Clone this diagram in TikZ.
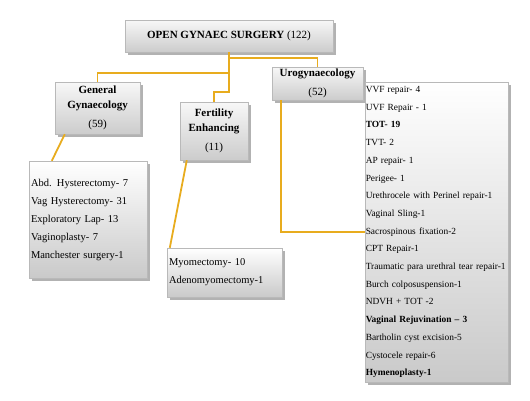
\documentclass[tikz,border=0pt]{standalone}
\usepackage{fontspec}
\setmainfont{Liberation Serif}
\usetikzlibrary{shadows,calc}
\definecolor{connc}{RGB}{232,172,30}
\tikzset{
  shad/.style={drop shadow={shadow xshift=2.5pt,shadow yshift=-2.5pt,fill=gray!75,opacity=0.8}},
  box/.style={draw=gray!55, top color=gray!6, bottom color=gray!40, shad, inner sep=1pt, align=center,
    font=\bfseries\fontsize{11}{15}\selectfont},
  listbox/.style={draw=gray!55, top color=white, bottom color=gray!42, shad, align=left, inner xsep=2pt, inner ysep=0pt},
  conn/.style={draw=connc, line width=1.8pt}
}
\begin{document}
\begin{tikzpicture}[x=1pt,y=-1pt]
\useasboundingbox (0,0) rectangle (530,400);

\node[box, minimum width=208pt, minimum height=32pt] (top) at (229,36)
  {OPEN GYNAEC SURGERY {\mdseries (122)}};

\node[box, minimum width=85pt, minimum height=52pt] (gen) at (97.5,108)
  {General\\Gynaecology\\[4pt]{\mdseries (59)}};
\node[box, minimum width=68pt, minimum height=58pt] (fert) at (214,131)
  {Fertility\\Enhancing\\[4pt]{\mdseries (11)}};
\node[box, minimum width=91pt, minimum height=33pt] (uro) at (317.5,83.5)
  {Urogynaecology\\[4pt]{\mdseries (52)}};

\node[listbox, text width=114pt, minimum height=117pt, font=\fontsize{10.5}{18}\selectfont] (genlist) at (88,219.5)
  {Abd. Hysterectomy- 7\\Vag Hysterectomy- 31\\Exploratory Lap- 13\\Vaginoplasty- 7\\Manchester surgery-1};

\node[listbox, text width=111pt, minimum height=49pt, font=\fontsize{10.5}{18}\selectfont] (myo) at (224.5,272.5)
  {Myomectomy- 10\\Adenomyomectomy-1};

\node[listbox, text width=141.5pt, minimum height=300pt, inner xsep=0.75pt, font=\fontsize{9.4}{17.7}\selectfont] (urolist) at (436.5,232)
  {VVF repair- 4\\UVF Repair - 1\\\textbf{TOT- 19}\\TVT- 2\\AP repair- 1\\Perigee- 1\\Urethrocele with Perinel repair-1\\Vaginal Sling-1\\Sacrospinous fixation-2\\CPT Repair-1\\Traumatic para urethral tear repair-1\\Burch colposuspension-1\\NDVH + TOT -2\\\textbf{Vaginal Rejuvination -- 3}\\Bartholin cyst excision-5\\Cystocele repair-6\\\textbf{Hymenoplasty-1}};

\draw[conn] (top.south) -- ([yshift=-6pt]top.south) -| (uro.north);
\draw[conn] (top.south) |- ([yshift=9pt]gen.north) -- (gen.north);
\draw[conn] (top.south) |- ([yshift=10pt]fert.north) -- (fert.north);
\draw[conn] ([xshift=10pt]gen.south west) -- ([xshift=23pt]genlist.north west);
\draw[conn] ([xshift=7pt]fert.south west) -- ([xshift=3pt]myo.north west);
\draw[conn] ([xshift=9pt]uro.south west) |- (urolist.west);
\end{tikzpicture}
\end{document}
